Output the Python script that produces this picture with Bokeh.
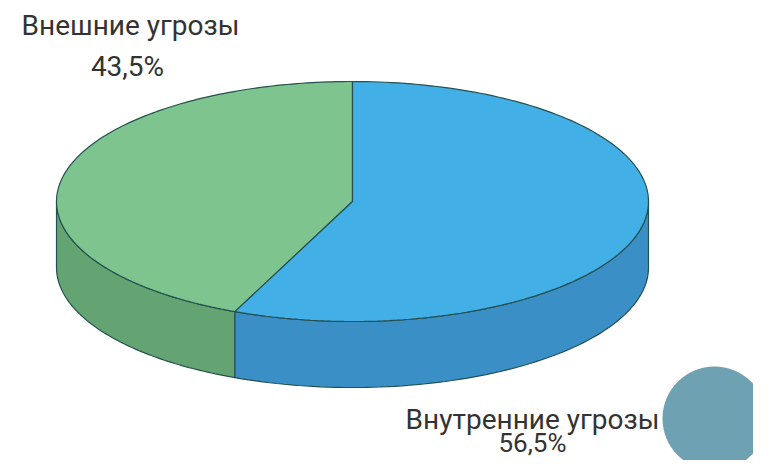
import numpy as np
from bokeh.plotting import figure
from bokeh.models import Range1d, ColumnDataSource
from bokeh.core.properties import value
from bokeh.embed import file_html
from bokeh.resources import INLINE

# ---- data ----
categories = ["Внешние угрозы", "Внутренние угрозы"]
shares = [43.5, 56.5]
top_colors = ["#7DC48F", "#42AFE6"]
side_colors = ["#64A473", "#3A8FC7"]

# ---- layout (picture pixel coordinates) ----
W, H = 753, 460
cx, cy, rx, ry, depth = 352, 201, 296, 120, 66

p = figure(width=W, height=H, output_backend="svg", toolbar_location=None,
           x_range=Range1d(0, W), y_range=Range1d(H, 0),
           min_border=0, background_fill_color="white", border_fill_color="white")
p.axis.visible = False
p.grid.visible = False
p.outline_line_color = None

def pt(t_deg, dy=0.0):
    t = np.radians(t_deg)
    return cx + rx * np.cos(t), cy - ry * np.sin(t) + dy

total = sum(shares)
starts, ends = [], []
a = 90.0
for s in shares:
    starts.append(a)
    a += 360.0 * s / total
    ends.append(a)

# side walls (front visible part: angles 180..360)
side_xs, side_ys, side_c = [], [], []
for t1, t2, c in zip(starts, ends, side_colors):
    lo, hi = max(t1, 180.0), min(t2, 360.0)
    if hi <= lo:
        continue
    ts = np.linspace(lo, hi, 80)
    xt, yt = pt(ts)
    xb, yb = pt(ts[::-1], depth)
    side_xs.append(list(np.concatenate([xt, xb])))
    side_ys.append(list(np.concatenate([yt, yb])))
    side_c.append(c)
p.patches(xs=side_xs, ys=side_ys, fill_color=side_c, line_color="#24514f",
          line_width=1.2)

# top face wedges
top_xs, top_ys = [], []
for t1, t2 in zip(starts, ends):
    ts = np.linspace(t1, t2, 160)
    x, y = pt(ts)
    top_xs.append([cx] + list(x))
    top_ys.append([cy] + list(y))
p.patches(xs=top_xs, ys=top_ys, fill_color=top_colors, line_color="#24514f",
          line_width=1.2)

# labels
pct = [f"{v:.1f}%".replace(".", ",") for v in shares]
lab = ColumnDataSource(dict(
    x=[130, 532, 127, 532],
    y=[25, 419, 66, 442],
    t=[categories[0], categories[1], pct[0], pct[1]],
    fs=["28px", "28px", "28px", "26px"],
))
p.text(x="x", y="y", text="t", source=lab, text_font=value("Roboto"),
       text_font_size="fs", text_color="#333333", text_align="center",
       text_baseline="middle")

# decorative circle
p.circle(x=[714], y=[418], radius=52, fill_color="#6EA2B2", line_color=None)

open("out.html", "w").write(file_html(p, INLINE))
